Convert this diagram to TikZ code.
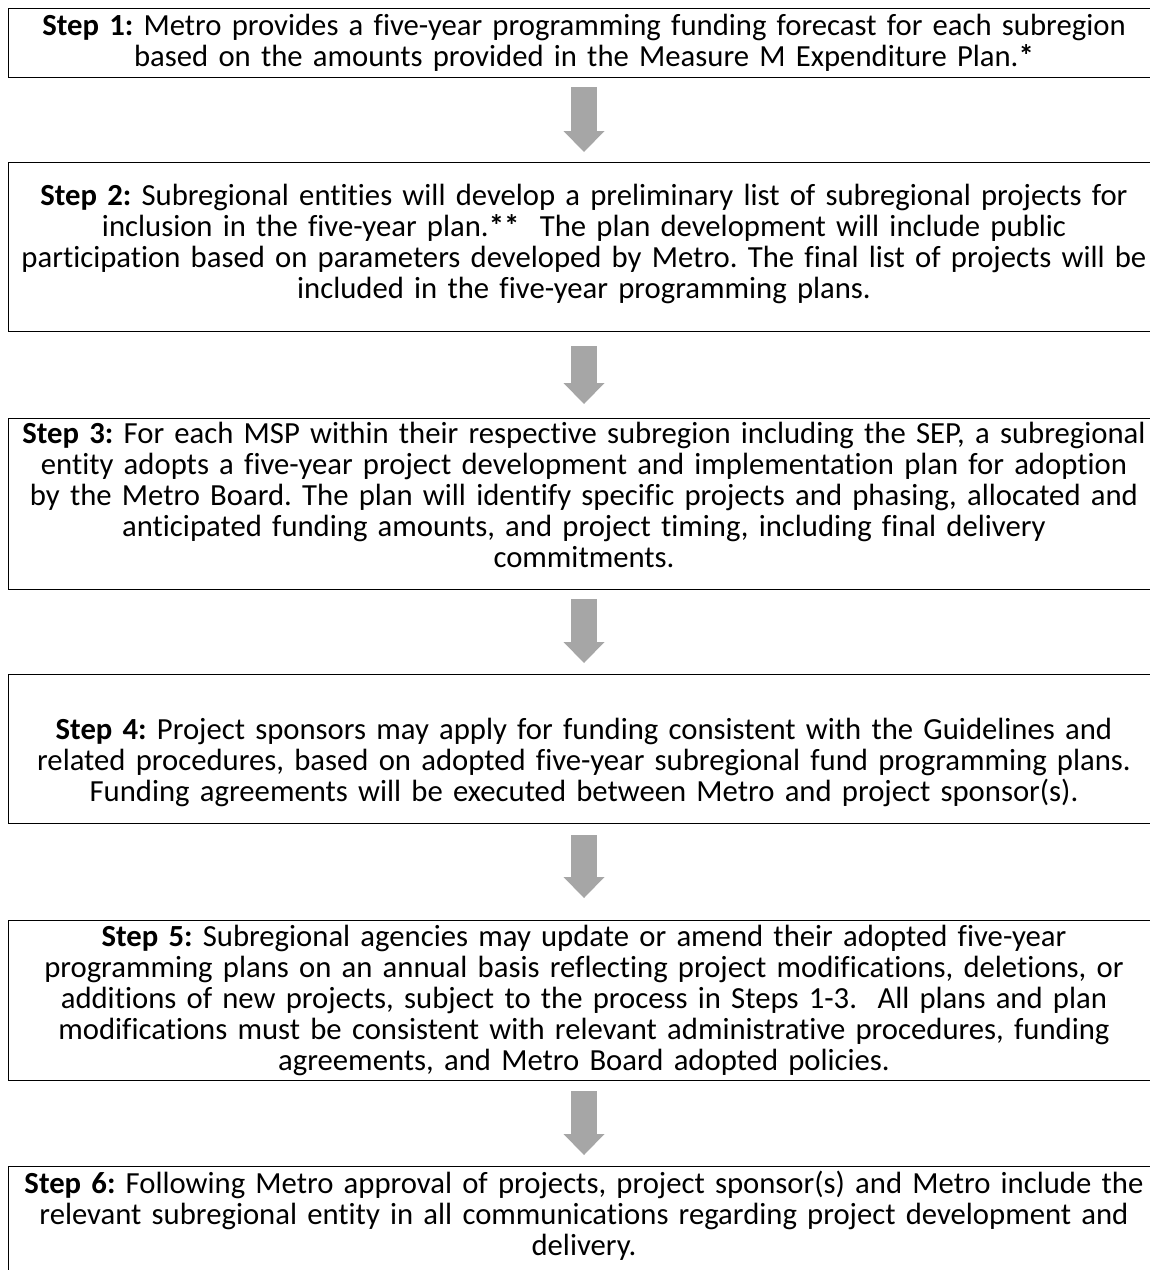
\documentclass[tikz,border=0pt]{standalone}
\usepackage{fontspec}
\setmainfont{Carlito}[Ligatures=NoCommon]
\frenchspacing
\usetikzlibrary{arrows.meta}
\definecolor{arrowgray}{RGB}{166,166,166}
\tikzset{
	stepbox/.style={draw,line width=1.2pt,minimum width=1151pt,text width=1141pt,inner xsep=5pt,inner ysep=2pt,align=center,anchor=north,font=\fontsize{30.7}{31}\selectfont},
	flowarrow/.style={arrowgray,line width=26pt,-{Triangle[width=41pt,length=21pt,line width=0pt]}}
}
\begin{document}
\begin{tikzpicture}[x=1pt,y=-1pt]
			\useasboundingbox (0,0) rectangle (1150,1270);
			\node[stepbox,minimum height=69pt] (s1) at (584,8){\textbf{Step 1:} Metro provides a five-year programming funding forecast for each subregion\\based on the amounts provided in the Measure M Expenditure Plan.\textbf{*}\rule[-6pt]{0pt}{6pt}};
			\node[stepbox,minimum height=169pt] (s2) at (584,162){\textbf{Step 2:} Subregional entities will develop a preliminary list of subregional projects for\\inclusion in the five-year plan.\textbf{**}\ \ The plan development will include public\\participation based on parameters developed by Metro. The final list of projects will be\\included in the five-year programming plans.\rule[-11pt]{0pt}{11pt}};
			\node[stepbox,minimum height=171pt] (s3) at (584,418){\textbf{Step 3:} For each MSP within their respective subregion including the SEP, a subregional\\entity adopts a five-year project development and implementation plan for adoption\\by the Metro Board. The plan will identify specific projects and phasing, allocated and\\anticipated funding amounts, and project timing, including final delivery\\commitments.\rule[-18pt]{0pt}{18pt}};
			\node[stepbox,minimum height=149pt] (s4) at (584,674){\rule{0pt}{48pt}\textbf{Step 4:} Project sponsors may apply for funding consistent with the Guidelines and\\related procedures, based on adopted five-year subregional fund programming plans.\\Funding agreements will be executed between Metro and project sponsor(s).};
			\node[stepbox,minimum height=160pt] (s5) at (584,920){\textbf{Step 5:} Subregional agencies may update or amend their adopted five-year\\programming plans on an annual basis reflecting project modifications, deletions, or\\additions of new projects, subject to the process in Steps 1-3.\ \ All plans and plan\\modifications must be consistent with relevant administrative procedures, funding\\agreements, and Metro Board adopted policies.};
			\node[stepbox,minimum height=130pt] (s6) at (584,1166){\textbf{Step 6:} Following Metro approval of projects, project sponsor(s) and Metro include the\\relevant subregional entity in all communications regarding project development and\\delivery.\rule[-36pt]{0pt}{36pt}};
			
			\draw (s1) edge [flowarrow,shorten <=9pt,shorten >=10pt] (s2);
			\draw (s2) edge [flowarrow,shorten <=14pt,shorten >=14pt] (s3);
			\draw (s3) edge [flowarrow,shorten <=9pt,shorten >=11pt] (s4);
			\draw (s4) edge [flowarrow,shorten <=11pt,shorten >=22pt] (s5);
			\draw (s5) edge [flowarrow,shorten <=10pt,shorten >=11pt] (s6);
		\end{tikzpicture}
\end{document}
